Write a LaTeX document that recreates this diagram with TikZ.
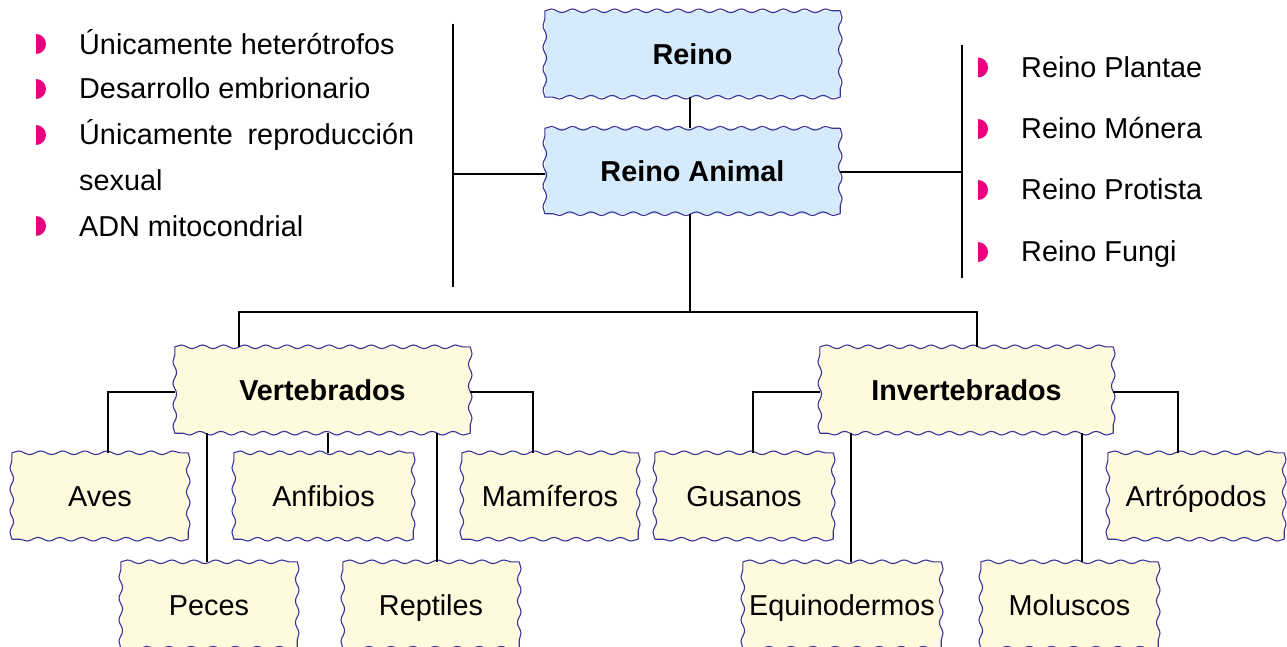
\documentclass[tikz,border=0pt]{standalone}
\usepackage{fontspec}
\setmainfont{Liberation Sans}
\usetikzlibrary{decorations.pathmorphing,calc}
\definecolor{bluefill}{RGB}{213,235,251}
\definecolor{yelfill}{RGB}{255,249,221}
\definecolor{wavecol}{RGB}{58,52,150}
\definecolor{bulcol}{RGB}{230,0,125}
\tikzset{
  wavebox/.style={draw=none, inner sep=0pt, text height=20.6pt, text depth=0pt, align=center,
    font=\fontsize{28.8}{34}\selectfont},
  bluebox/.style={wavebox, fill=bluefill, font=\fontsize{28.8}{34}\selectfont\bfseries},
  topbox/.style={wavebox, fill=yelfill, font=\fontsize{28.8}{34}\selectfont\bfseries, minimum width=295pt, minimum height=86pt},
  leafbox/.style={wavebox, fill=yelfill, minimum height=86pt},
  waveline/.style={draw=wavecol, line width=1.1pt},
  conn/.style={draw=black, line width=2.4pt},
  listtext/.style={anchor=base west, inner sep=0pt, font=\fontsize{28.8}{34}\selectfont},
  bul/.style={fill=bulcol, draw=none}
}
\newcommand\wavyframe[1]{%
  \draw[waveline] let \p1=(#1.north west), \p2=(#1.south east),
    \n1={max(1,round((\x2-\x1)/21))}, \n2={max(1,round((\y1-\y2)/21))},
    \n3={(\x2-\x1)/\n1}, \n4={(\y1-\y2)/\n2} in
    decorate[decoration={snake,segment length=\n3,amplitude=1.8pt}]{(\x1,\y1) -- (\x2,\y1)}
    decorate[decoration={snake,segment length=\n4,amplitude=1.8pt}]{(\x2,\y1) -- (\x2,\y2)}
    decorate[decoration={snake,segment length=\n3,amplitude=1.8pt}]{(\x2,\y2) -- (\x1,\y2)}
    decorate[decoration={snake,segment length=\n4,amplitude=1.8pt}]{(\x1,\y2) -- (\x1,\y1)};
}
\begin{document}
\begin{tikzpicture}[x=1pt,y=-1pt]
\useasboundingbox (0,0) rectangle (1287,647);
% top boxes
\node[bluebox, minimum width=295pt, minimum height=86pt] (reino) at (692.5,54) {Reino};
\node[bluebox, minimum width=295pt, minimum height=85pt] (animal) at (692.5,171) {Reino Animal};
% second level
\node[topbox] (vert) at (322.5,390) {Vertebrados};
\node[topbox, minimum width=293pt] (invert) at (966.5,390) {Invertebrados};
% leaves
\node[leafbox, minimum width=176pt] (aves) at (100,496) {Aves};
\node[leafbox, minimum width=179pt] (anfibios) at (323.5,496) {Anfibios};
\node[leafbox, minimum width=176pt] (mamiferos) at (550,496) {Mamíferos};
\node[leafbox, minimum width=176pt] (peces) at (209,605) {Peces};
\node[leafbox, minimum width=176pt] (reptiles) at (431,605) {Reptiles};
\node[leafbox, minimum width=178pt] (gusanos) at (744,496) {Gusanos};
\node[leafbox, minimum width=176pt] (artropodos) at (1196,496) {Artrópodos};
\node[leafbox, minimum width=198pt] (equino) at (842,605) {Equinodermos};
\node[leafbox, minimum width=177pt] (moluscos) at (1069.5,605) {Moluscos};
% wavy frames
\foreach \nn in {reino,animal,vert,invert,aves,anfibios,mamiferos,peces,reptiles,gusanos,artropodos,equino,moluscos} {
  \wavyframe{\nn}
}
% side bracket lines
\coordinate (ltop) at (453,24);
\coordinate (lbot) at (453,287);
\coordinate (rtop) at (962,45);
\coordinate (rbot) at (962,278);
\coordinate (hub) at (690,312);
\draw[conn] (ltop) -- (lbot);
\draw[conn] (rtop) -- (rbot);
\draw[conn] ([yshift=-3pt]animal.west) -- ([yshift=-3pt]animal.west -| ltop);
\draw[conn] ([yshift=-1pt]animal.east) -- ([yshift=-1pt]animal.east -| rtop);
% tree connectors
\draw[conn] ([xshift=-2.5pt]reino.south) -- ([xshift=-2.5pt]animal.north);
\draw[conn] ([xshift=-2.5pt]animal.south) -- (hub);
\draw[conn] ([xshift=-83.5pt]vert.north) |- (hub) -| ([xshift=10.5pt]invert.north);
\draw[conn] ([yshift=-2pt]vert.west) -| ([xshift=8pt]aves.north);
\draw[conn] ([yshift=-2pt]vert.east) -| ([xshift=-17pt]mamiferos.north);
\draw[conn] ([xshift=-2pt]peces.north) -- ([xshift=-2pt]peces.north |- vert.south);
\draw[conn] ([xshift=4.5pt]anfibios.north) -- ([xshift=4.5pt]anfibios.north |- vert.south);
\draw[conn] ([xshift=6pt]reptiles.north) -- ([xshift=6pt]reptiles.north |- vert.south);
\draw[conn] ([yshift=-2pt]invert.west) -| ([xshift=9pt]gusanos.north);
\draw[conn] ([yshift=-2pt]invert.east) -| ([xshift=-18pt]artropodos.north);
\draw[conn] ([xshift=9pt]equino.north) -- ([xshift=9pt]equino.north |- invert.south);
\draw[conn] ([xshift=12.5pt]moluscos.north) -- ([xshift=12.5pt]moluscos.north |- invert.south);
% left list
\node[listtext] (l1) at (79,54.5) {Únicamente heterótrofos};
\node[listtext] (l2) at (79,99) {Desarrollo embrionario};
\node[listtext] (l3) at (79,145) {\makebox[335pt][s]{Únicamente reproducción}};
\node[listtext] (l4) at (79,190.5) {sexual};
\node[listtext] (l5) at (79,236) {ADN mitocondrial};
\foreach \yy in {44,89,135,226} {
  \fill[bul] (36,\yy-10) arc[start angle=-90, end angle=90, radius=10] -- cycle;
}
% right list
\node[listtext] (r1) at (1021,78) {Reino Plantae};
\node[listtext] (r2) at (1021,139) {Reino Mónera};
\node[listtext] (r3) at (1021,200) {Reino Protista};
\node[listtext] (r4) at (1021,261) {Reino Fungi};
\foreach \yy in {67.5,129,190,252} {
  \fill[bul] (978,\yy-10) arc[start angle=-90, end angle=90, radius=10] -- cycle;
}
\end{tikzpicture}
\end{document}
